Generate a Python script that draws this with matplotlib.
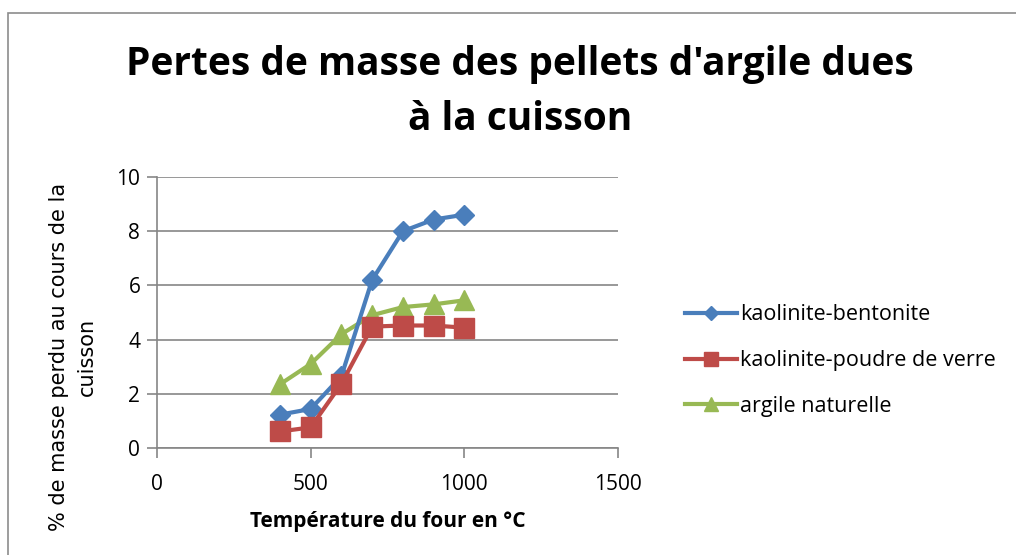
import matplotlib
matplotlib.use("Agg")
import matplotlib.pyplot as plt
from matplotlib.patches import Rectangle

temperatures = [400, 500, 600, 700, 800, 900, 1000]
kaolinite_bentonite = [1.23, 1.44, 2.65, 6.2, 8.0, 8.43, 8.61]
kaolinite_verre = [0.61, 0.76, 2.37, 4.48, 4.52, 4.52, 4.44]
argile_naturelle = [2.35, 3.1, 4.2, 4.9, 5.2, 5.3, 5.45]

series_names = ["kaolinite-bentonite", "kaolinite-poudre de verre", "argile naturelle"]
x_ticks = [0, 500, 1000, 1500]
y_ticks = [0, 2, 4, 6, 8, 10]

W, H = 1016, 555
fig = plt.figure(figsize=(W / 100, H / 100), dpi=100)
fig.patch.set_facecolor("white")

# outer chart frame
fig.add_artist(Rectangle((8 / W, -0.01), 1.02, (H - 13) / H + 0.01,
                         transform=fig.transFigure, fill=False,
                         edgecolor="#8c8c8c", linewidth=1.2))

left, right, top, bottom = 157, 618, 177, 448
ax = fig.add_axes([left / W, 1 - bottom / H, (right - left) / W, (bottom - top) / H])
ax.set_xlim(0, 1500)
ax.set_ylim(0, 10)

blue = "#4a7ebb"
red = "#be4b48"
green = "#98b954"

ax.plot(temperatures, kaolinite_bentonite, color=blue, lw=3, marker="D",
        ms=10, label=series_names[0], zorder=3)
ax.plot(temperatures, kaolinite_verre, color=red, lw=3, marker="s",
        ms=14, label=series_names[1], zorder=4)
ax.plot(temperatures, argile_naturelle, color=green, lw=3, marker="^",
        ms=14, label=series_names[2], zorder=2)

ax.set_xticks(x_ticks)
ax.set_yticks(y_ticks)
ax.grid(axis="y", color="#868686", lw=1.2)
ax.set_axisbelow(True)
for s in ["top", "right"]:
    ax.spines[s].set_visible(False)
for s in ["left", "bottom"]:
    ax.spines[s].set_color("#868686")
    ax.spines[s].set_linewidth(1.2)
ax.tick_params(axis="x", direction="out", length=7, width=1.2, color="#868686",
               labelsize=15, pad=12)
ax.tick_params(axis="y", direction="out", length=7, width=1.2, color="#868686",
               labelsize=15, pad=5)
for lab in ax.get_xticklabels() + ax.get_yticklabels():
    lab.set_fontfamily("Open Sans")

fig.text(388 / W, 1 - 521 / H, "Température du four en °C", ha="center",
         va="center", fontsize=15, fontweight="bold", fontfamily="Open Sans")
fig.text(73 / W, 1 - 357 / H, "% de masse perdu au cours de la\ncuisson",
         ha="center", va="center", rotation=90, fontsize=15,
         fontfamily="DejaVu Sans", linespacing=1.5)

fig.text(520 / W, 1 - 92 / H, "Pertes de masse des pellets d'argile dues\nà la cuisson",
         ha="center", va="center", fontsize=28, fontweight="bold",
         fontfamily="Open Sans", linespacing=1.5)

leg = fig.legend(loc="upper left", bbox_to_anchor=(666 / W, 1 - 285 / H),
                 frameon=False, handlelength=2.4, handletextpad=0.15,
                 labelspacing=1.15, markerscale=0.7,
                 prop={"family": "Open Sans", "size": 15.5})

fig.savefig("out.png", dpi=100)
